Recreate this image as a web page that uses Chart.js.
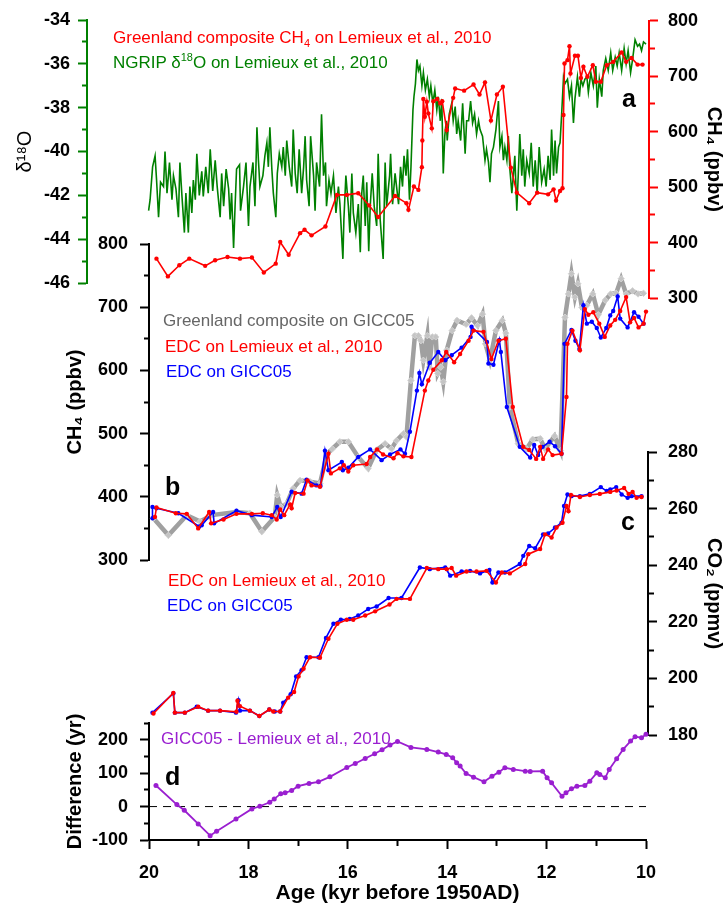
<!DOCTYPE html>
<html lang="en">
<head>
<meta charset="UTF-8">
<title>Greenland and EDC records, 20-10 kyr</title>
<script src="https://cdn.jsdelivr.net/npm/chart.js@4"></script>
<style>
    body { margin: 0; background: #fff; }
    #wrap { position: relative; width: 724px; height: 906px; font-family: 'Liberation Sans', Arial, sans-serif; }
    #wrap canvas { position: absolute; left: 0; top: 0; }
    .lbl { position: absolute; font-size: 17px; line-height: 17px; white-space: nowrap; }
    .lbl sub, .lbl sup { font-size: 11px; line-height: 0; }
    .pan { position: absolute; font-size: 25px; line-height: 25px; font-weight: bold; color: #000; }
</style>
</head>
<body>
<div id="wrap">
    <canvas id="cA1" width="724" height="906"></canvas>
    <canvas id="cA2" width="724" height="906"></canvas>
    <canvas id="cB" width="724" height="906"></canvas>
    <canvas id="cC" width="724" height="906"></canvas>
    <canvas id="cD" width="724" height="906"></canvas>

    <div class="lbl" style="left:113px;top:29px;color:#ff0000">Greenland composite CH<sub>4</sub> on Lemieux et al., 2010</div>
    <div class="lbl" style="left:113px;top:54px;color:#008000">NGRIP &delta;<sup>18</sup>O on Lemieux et al., 2010</div>
    <div class="lbl" style="left:163px;top:312px;color:#666666">Greenland composite on GICC05</div>
    <div class="lbl" style="left:165px;top:338px;color:#ff0000">EDC on Lemieux et al., 2010</div>
    <div class="lbl" style="left:166px;top:363px;color:#0000ff">EDC on GICC05</div>
    <div class="lbl" style="left:168px;top:572px;color:#ff0000">EDC on Lemieux et al., 2010</div>
    <div class="lbl" style="left:167px;top:597px;color:#0000ff">EDC on GICC05</div>
    <div class="lbl" style="left:161px;top:730px;color:#9a1fd0">GICC05 - Lemieux et al., 2010</div>

    <div class="pan" style="left:622px;top:86px">a</div>
    <div class="pan" style="left:165px;top:474px">b</div>
    <div class="pan" style="left:621px;top:509px">c</div>
    <div class="pan" style="left:165px;top:764px">d</div>
</div>
<script>
// [age kyr, value] pairs

// a: NGRIP d18O (permil)
const ngripD18O = [[20.01,-42.7],[19.98,-42.2],[19.93,-40.7],[19.88,-40.2],[19.85,-41.3],[19.81,-43.0],[19.77,-41.4],[19.71,-41.6],[19.68,-40.0],[19.64,-41.9],[19.59,-40.5],[19.54,-42.2],[19.51,-41.1],[19.46,-41.7],[19.41,-43.0],[19.38,-40.5],[19.34,-42.0],[19.29,-43.7],[19.26,-41.9],[19.21,-43.7],[19.18,-41.6],[19.14,-42.8],[19.11,-41.3],[19.07,-42.2],[19.04,-40.1],[18.99,-42.0],[18.94,-40.9],[18.91,-42.05],[18.86,-40.7],[18.81,-41.9],[18.77,-39.9],[18.72,-41.8],[18.67,-40.4],[18.63,-41.6],[18.57,-43.0],[18.54,-41.0],[18.50,-42.5],[18.45,-40.8],[18.40,-41.7],[18.37,-43.1],[18.34,-41.9],[18.30,-44.4],[18.27,-42.5],[18.24,-40.8],[18.18,-40.6],[18.16,-42.7],[18.10,-41.6],[18.05,-40.5],[18.00,-43.4],[17.97,-41.6],[17.91,-40.5],[17.87,-42.5],[17.83,-38.9],[17.80,-40.4],[17.77,-41.6],[17.71,-41.1],[17.67,-40.2],[17.63,-39.6],[17.60,-40.7],[17.57,-38.9],[17.53,-40.8],[17.50,-41.9],[17.45,-43.0],[17.42,-41.0],[17.38,-40.1],[17.33,-40.7],[17.30,-39.8],[17.26,-41.1],[17.23,-39.5],[17.18,-40.7],[17.13,-41.6],[17.10,-39.0],[17.06,-41.0],[17.02,-41.9],[16.98,-39.9],[16.93,-41.9],[16.89,-40.7],[16.86,-39.3],[16.83,-41.3],[16.78,-42.5],[16.75,-39.3],[16.69,-41.1],[16.66,-42.7],[16.63,-40.5],[16.57,-41.6],[16.53,-38.3],[16.49,-41.1],[16.45,-40.5],[16.43,-42.5],[16.38,-41.3],[16.34,-41.9],[16.29,-41.1],[16.24,-42.8],[16.19,-41.6],[16.16,-42.4],[16.10,-44.9],[16.08,-43.1],[16.04,-41.1],[15.99,-42.5],[15.96,-43.7],[15.92,-41.0],[15.89,-42.8],[15.84,-43.7],[15.79,-42.4],[15.75,-44.6],[15.72,-41.9],[15.69,-41.1],[15.65,-43.4],[15.62,-41.4],[15.58,-44.55],[15.55,-42.5],[15.51,-41.0],[15.47,-42.5],[15.42,-43.4],[15.39,-40.1],[15.35,-43.1],[15.29,-44.9],[15.25,-40.5],[15.22,-42.5],[15.16,-41.1],[15.14,-40.1],[15.10,-42.4],[15.05,-41.0],[15.02,-41.6],[14.98,-42.4],[14.94,-40.7],[14.90,-41.6],[14.87,-40.2],[14.83,-41.1],[14.80,-39.9],[14.76,-42.2],[14.73,-40.7],[14.69,-38.1],[14.67,-37.5],[14.64,-36.9],[14.61,-35.8],[14.58,-36.3],[14.55,-36.1],[14.51,-37.0],[14.48,-36.4],[14.44,-37.2],[14.40,-36.7],[14.36,-37.5],[14.33,-37.0],[14.29,-37.8],[14.25,-37.2],[14.21,-38.1],[14.18,-37.5],[14.14,-38.6],[14.11,-37.6],[14.08,-41.0],[14.05,-39.3],[14.02,-38.6],[14.00,-39.5],[13.96,-38.3],[13.91,-37.8],[13.88,-38.6],[13.84,-37.95],[13.81,-39.2],[13.78,-38.6],[13.73,-39.5],[13.69,-37.8],[13.64,-40.1],[13.61,-38.6],[13.57,-38.6],[13.53,-37.7],[13.49,-38.7],[13.45,-38.3],[13.41,-39.2],[13.37,-38.6],[13.34,-39.0],[13.29,-39.3],[13.24,-40.4],[13.21,-39.9],[13.17,-40.5],[13.14,-41.4],[13.11,-40.1],[13.07,-39.8],[13.02,-39.0],[12.97,-37.7],[12.94,-39.8],[12.90,-39.3],[12.87,-40.4],[12.84,-39.8],[12.80,-40.4],[12.77,-39.3],[12.74,-40.8],[12.70,-41.9],[12.67,-41.1],[12.64,-40.2],[12.60,-42.7],[12.57,-41.0],[12.54,-39.2],[12.50,-41.1],[12.47,-39.9],[12.44,-41.6],[12.40,-40.4],[12.35,-41.0],[12.31,-39.6],[12.27,-41.6],[12.23,-40.4],[12.19,-41.9],[12.15,-39.8],[12.10,-41.4],[12.05,-40.8],[12.01,-41.6],[11.97,-40.2],[11.93,-41.3],[11.90,-39.0],[11.86,-41.1],[11.83,-39.5],[11.80,-41.0],[11.76,-39.8],[11.73,-39.6],[11.70,-38.4],[11.66,-36.6],[11.63,-36.9],[11.58,-36.7],[11.54,-37.5],[11.50,-37.0],[11.46,-38.7],[11.43,-37.6],[11.38,-36.6],[11.34,-37.5],[11.31,-36.7],[11.27,-37.0],[11.23,-36.7],[11.19,-36.6],[11.16,-37.3],[11.11,-36.4],[11.06,-37.0],[11.01,-36.1],[10.98,-38.0],[10.94,-36.7],[10.89,-37.5],[10.86,-36.3],[10.81,-35.75],[10.76,-36.3],[10.71,-35.5],[10.67,-36.3],[10.62,-35.7],[10.58,-36.1],[10.54,-35.5],[10.49,-36.3],[10.44,-35.3],[10.40,-36.0],[10.36,-35.4],[10.31,-36.4],[10.27,-35.8],[10.22,-34.9],[10.17,-35.2],[10.13,-35.1],[10.09,-35.4],[10.05,-35.0],[10.00,-35.1]];

// a: Greenland composite CH4 on Lemieux (ppbv)
const grCh4Lem = [[19.85,371],[19.62,339],[19.39,359],[19.19,371],[18.87,358],[18.67,368],[18.42,374],[18.17,371],[17.93,373],[17.69,346],[17.45,362],[17.36,401],[17.19,378],[16.96,417],[16.87,423],[16.73,413],[16.45,429],[16.22,486],[16.02,486],[15.79,489],[15.57,467],[15.39,446],[15.05,484],[14.82,471],[14.78,459],[14.67,501],[14.58,495],[14.51,536],[14.50,584],[14.48,659],[14.45,627],[14.41,654],[14.38,633],[14.31,606],[14.28,655],[14.20,659],[14.14,651],[14.10,655],[14.01,603],[13.88,661],[13.84,678],[13.66,674],[13.47,685],[13.35,667],[13.24,689],[13.12,620],[13.00,667],[12.88,681],[12.72,535],[12.60,490],[12.35,471],[12.19,490],[11.97,487],[11.86,496],[11.81,476],[11.73,493],[11.68,498],[11.66,630],[11.64,723],[11.58,729],[11.54,754],[11.52,705],[11.43,737],[11.37,737],[11.31,697],[11.26,717],[11.18,699],[11.07,720],[11.01,690],[10.91,690],[10.79,720],[10.66,726],[10.49,743],[10.40,726],[10.29,733],[10.17,721],[10.07,721]];

// b: CH4 (ppbv)
const grCh4Gicc = [[19.91,366],[19.61,339],[19.24,371],[18.97,361],[18.74,371],[18.24,376],[17.97,374],[17.73,345],[17.47,368],[17.42,403],[17.35,384],[17.23,389],[17.10,413],[16.96,426],[16.76,424],[16.56,421],[16.42,468],[16.31,476],[16.16,487],[15.99,487],[15.79,463],[15.59,445],[15.42,474],[15.25,484],[15.12,476],[15.02,489],[14.88,500],[14.82,495],[14.73,584],[14.65,655],[14.58,655],[14.53,647],[14.48,616],[14.40,655],[14.36,605],[14.30,653],[14.23,653],[14.19,595],[14.13,605],[14.08,582],[14.01,632],[13.90,663],[13.80,679],[13.62,673],[13.51,683],[13.39,671],[13.29,689],[13.23,642],[13.14,616],[13.02,663],[12.89,679],[12.82,659],[12.74,542],[12.57,484],[12.40,476],[12.28,491],[12.13,492],[12.03,476],[11.84,496],[11.72,473],[11.63,684],[11.56,721],[11.50,753],[11.43,716],[11.37,737],[11.29,700],[11.19,703],[11.07,721],[10.96,688],[10.82,711],[10.71,721],[10.60,722],[10.50,745],[10.40,721],[10.27,726],[10.16,721],[10.05,722]];
const edcCh4Lem = [[19.88,368],[19.85,383],[19.46,374],[19.24,373],[19.01,350],[18.79,376],[18.75,358],[18.50,364],[18.24,373],[17.93,373],[17.71,374],[17.53,371],[17.43,364],[17.36,380],[17.28,371],[17.16,388],[17.13,382],[17.06,406],[16.89,405],[16.81,426],[16.73,418],[16.56,416],[16.39,468],[16.34,437],[16.16,445],[16.08,450],[15.99,440],[15.89,450],[15.62,452],[15.55,463],[15.41,475],[15.29,467],[15.08,461],[15.00,469],[14.88,464],[14.72,463],[14.45,568],[14.38,584],[14.28,601],[14.11,616],[14.02,629],[13.86,613],[13.74,626],[13.57,647],[13.47,663],[13.27,661],[13.11,618],[12.97,647],[12.82,650],[12.68,542],[12.47,479],[12.35,474],[12.21,460],[12.13,479],[12.07,460],[11.97,475],[11.88,466],[11.70,468],[11.60,558],[11.58,642],[11.48,663],[11.33,632],[11.23,697],[11.16,688],[11.06,692],[10.94,674],[10.83,653],[10.72,671],[10.62,680],[10.52,694],[10.40,716],[10.32,676],[10.24,683],[10.15,668],[10.05,674],[10.00,693]];
const edcCh4Gicc = [[19.93,366],[19.93,384],[19.85,382],[19.41,374],[18.99,353],[18.94,355],[18.71,376],[18.69,358],[18.24,378],[17.93,371],[17.53,368],[17.42,384],[17.35,368],[17.13,408],[16.93,405],[16.83,427],[16.63,418],[16.55,417],[16.46,473],[16.39,442],[16.12,455],[16.10,442],[15.99,446],[15.79,463],[15.55,475],[15.32,458],[15.15,467],[14.94,475],[14.85,468],[14.75,503],[14.61,568],[14.56,596],[14.51,578],[14.35,612],[14.18,629],[14.04,616],[13.91,624],[13.71,636],[13.53,653],[13.51,669],[13.20,645],[13.17,611],[13.07,609],[12.95,648],[12.92,629],[12.80,542],[12.54,479],[12.33,462],[12.25,482],[12.17,466],[12.08,479],[11.94,487],[11.83,480],[11.70,468],[11.64,642],[11.50,664],[11.42,647],[11.34,634],[11.26,703],[11.19,674],[11.09,677],[10.99,667],[10.91,652],[10.80,667],[10.72,687],[10.66,694],[10.57,717],[10.52,682],[10.37,668],[10.24,692],[10.15,685],[10.05,674]];

// c: CO2 (ppmv)
const edcCo2Lem = [[19.91,187.6],[19.51,194.9],[19.48,187.9],[19.28,187.9],[19.01,190.0],[18.81,188.6],[18.57,188.6],[18.24,188.2],[18.22,192.1],[18.17,190.2],[17.97,188.6],[17.78,186.7],[17.58,189.0],[17.50,188.3],[17.36,188.3],[17.20,193.2],[17.08,195.2],[16.99,200.7],[16.89,203.4],[16.76,207.5],[16.56,207.3],[16.39,214.0],[16.21,219.3],[16.02,220.7],[15.89,220.7],[15.65,222.2],[15.45,223.7],[15.16,226.1],[15.02,228.1],[14.75,228.1],[14.41,239.0],[14.18,238.6],[14.01,238.6],[13.91,239.0],[13.82,236.3],[13.61,237.8],[13.41,237.8],[13.21,238.0],[13.02,233.9],[12.90,237.4],[12.74,237.1],[12.43,240.4],[12.37,243.9],[12.13,245.7],[12.03,250.9],[11.90,249.8],[11.80,253.3],[11.68,255.0],[11.60,260.9],[11.56,259.1],[11.51,264.8],[11.33,264.1],[11.13,264.8],[10.93,265.2],[10.72,265.9],[10.59,266.4],[10.44,267.3],[10.35,265.2],[10.27,265.9],[10.19,263.8],[10.09,264.1]];
const edcCo2Gicc = [[19.93,187.9],[19.51,194.7],[19.48,187.9],[19.28,187.9],[19.04,190.0],[18.81,188.6],[18.57,188.6],[18.25,187.9],[18.20,192.3],[18.17,188.6],[17.97,188.6],[17.78,186.7],[17.58,189.0],[17.47,188.3],[17.36,188.3],[17.30,191.4],[17.15,194.4],[17.04,200.7],[16.93,202.9],[16.83,207.5],[16.59,207.5],[16.44,214.3],[16.29,219.3],[16.14,220.7],[15.96,221.0],[15.79,222.2],[15.59,224.5],[15.42,225.4],[15.18,228.4],[14.92,228.4],[14.55,239.2],[14.35,238.6],[14.04,239.2],[13.94,236.3],[13.71,237.8],[13.54,238.0],[13.34,237.1],[13.15,238.3],[13.09,233.9],[12.97,237.4],[12.84,237.4],[12.54,240.4],[12.47,243.3],[12.35,246.8],[12.23,246.0],[12.07,250.9],[11.97,251.2],[11.83,253.3],[11.70,255.0],[11.65,260.9],[11.58,265.0],[11.50,264.4],[11.33,264.4],[11.13,265.2],[10.91,267.6],[10.79,266.2],[10.72,266.8],[10.60,267.6],[10.49,265.0],[10.37,263.8],[10.29,264.4],[10.09,264.4]];

// d: GICC05 minus Lemieux (yr)
const ageDiff = [[19.86,63],[19.44,6],[19.29,-11],[19.01,-52],[18.77,-87],[18.64,-74],[18.25,-37],[17.93,-7],[17.77,1],[17.57,13],[17.48,23],[17.35,38],[17.26,41],[17.13,48],[17.00,61],[16.78,69],[16.59,74],[16.36,89],[16.02,117],[15.85,129],[15.65,144],[15.46,158],[15.31,170],[15.15,184],[15.00,195],[14.73,177],[14.41,171],[14.18,163],[14.02,156],[13.89,146],[13.81,131],[13.74,121],[13.62,99],[13.47,88],[13.26,74],[13.10,91],[12.96,103],[12.84,116],[12.67,111],[12.43,106],[12.33,105],[12.08,106],[11.99,86],[11.90,71],[11.69,31],[11.61,41],[11.50,53],[11.39,61],[11.23,63],[11.13,76],[10.99,101],[10.93,96],[10.82,86],[10.74,111],[10.59,143],[10.46,171],[10.31,196],[10.22,209],[10.09,206],[10.00,216]];
const zeroLine = [[20,0],[10,0]];

const FONT = "'Liberation Sans', Arial, sans-serif";
const RED = '#ff0000', BLUE = '#0000ff', GREEN = '#008000', PURPLE = '#9a1fd0';

function pts(arr) {
    return arr.map(p => ({ x: p[0], y: p[1] }));
}

function isMajor(v, step) {
    return Math.abs(v / step - Math.round(v / step)) < 1e-6;
}

function series(arr, color, width, radius) {
    return {
        data: pts(arr), borderColor: color, backgroundColor: color, borderWidth: width,
        pointRadius: radius, pointBorderWidth: 0, pointBackgroundColor: color,
        tension: 0, clip: false
    };
}

// minor ticks are drawn as a dashed (shortened) tick line
function yAxis(o) {
    return {
        type: 'linear', position: o.pos, min: o.min, max: o.max,
        afterFit: s => { s.width = o.width; },
        border: { display: true, color: o.color, width: 2 },
        grid: {
            drawOnChartArea: false, drawTicks: true, tickLength: 9, tickColor: o.color, tickWidth: 2,
            tickBorderDash: ctx => (ctx.tick && !isMajor(ctx.tick.value, o.major)) ? (o.pos === 'left' ? [0, 4, 5, 30] : [5, 30]) : []
        },
        ticks: {
            stepSize: o.step, autoSkip: false, padding: o.pad, color: '#000',
            font: { family: FONT, size: 18, weight: 'bold' },
            callback: v => isMajor(v, o.major) ? String(v) : ''
        },
        title: {
            display: true, text: o.title, color: '#000',
            font: { family: FONT, size: 20, weight: o.titleWeight || 'bold', lineHeight: 1 },
            padding: { top: o.titlePad || 0, bottom: 0 }
        }
    };
}

function hiddenX(min, max) {
    return { type: 'linear', display: false, min: min, max: max, reverse: true };
}

function makeLayer(id, padding, xScale, yScale, datasets) {
    return new Chart(document.getElementById(id), {
        type: 'line',
        data: { datasets: datasets },
        options: {
            responsive: false, maintainAspectRatio: false, animation: false, events: [],
            layout: { padding: padding },
            plugins: { legend: { display: false }, tooltip: { enabled: false } },
            scales: { x: xScale, y: yScale }
        }
    });
}

// panel a, NGRIP d18O, axis at the far left
makeLayer('cA1', { left: 7, right: 78, top: 20, bottom: 623 }, hiddenX(10, 21.25),
    yAxis({ pos: 'left', min: -46, max: -34, step: 1, major: 2, width: 80, pad: 8, color: GREEN,
        title: 'δ¹⁸O', titleWeight: 'normal', titlePad: 8 }),
    [Object.assign(series(ngripD18O, GREEN, 1.6, 0))]);

// panel a, Greenland CH4, right axis
makeLayer('cA2', { left: 149, right: 0, top: 18, bottom: 608 }, hiddenX(9.94, 20),
    yAxis({ pos: 'right', min: 300, max: 800, step: 50, major: 100, width: 75, pad: 10, color: RED,
        title: 'CH₄ (ppbv)' }),
    [series(grCh4Lem, RED, 1.6, 2.2)]);

// panel b, CH4
const grayLine = series(grCh4Gicc, '#a0a0a0', 4.5, 3.2);
grayLine.pointStyle = 'rectRot';
grayLine.pointBackgroundColor = '#c4c4c4';
grayLine.pointBorderColor = '#d4d4d4';
grayLine.pointBorderWidth = 1;
makeLayer('cB', { left: 65, right: 78, top: 244, bottom: 346 }, hiddenX(10, 20),
    yAxis({ pos: 'left', min: 300, max: 800, step: 50, major: 100, width: 84, pad: 12, color: '#000',
        title: 'CH₄ (ppbv)' }),
    [series(edcCh4Lem, RED, 1.6, 2.2), series(edcCh4Gicc, BLUE, 1.6, 2.2), grayLine]);

// panel c, CO2, right axis
makeLayer('cC', { left: 149, right: 0, top: 452, bottom: 171 }, hiddenX(9.96, 20),
    yAxis({ pos: 'right', min: 180, max: 280, step: 10, major: 20, width: 76, pad: 11, color: '#000',
        title: 'CO₂ (ppmv)' }),
    [series(edcCo2Lem, RED, 1.6, 2.2), series(edcCo2Gicc, BLUE, 1.6, 2.2)]);

// panel d, age difference, with the shared age axis
const zeroDash = series(zeroLine, '#000', 1, 0);
zeroDash.borderDash = [8, 6];
makeLayer('cD', { left: 65, right: 78, top: 723, bottom: 0 },
    {
        type: 'linear', position: 'bottom', min: 10, max: 20, reverse: true,
        afterFit: s => { s.height = 66; },
        border: { display: true, color: '#000', width: 2 },
        grid: {
            drawOnChartArea: false, drawTicks: true, tickLength: 9, tickColor: '#000', tickWidth: 2,
            tickBorderDash: ctx => (ctx.tick && !isMajor(ctx.tick.value, 2)) ? [5, 30] : []
        },
        ticks: {
            stepSize: 1, autoSkip: false, maxRotation: 0, padding: 13, color: '#000',
            font: { family: FONT, size: 18, weight: 'bold' },
            callback: v => isMajor(v, 2) ? String(v) : ''
        },
        title: {
            display: true, text: 'Age (kyr before 1950AD)', color: '#000',
            font: { family: FONT, size: 21, weight: 'bold' }, padding: { top: 0, bottom: 0 }
        }
    },
    yAxis({ pos: 'left', min: -100, max: 250, step: 50, major: 100, width: 84, pad: 12, color: '#000',
        title: 'Difference (yr)' }),
    [series(ageDiff, PURPLE, 1.8, 2.5), zeroDash]);
</script>
</body>
</html>
